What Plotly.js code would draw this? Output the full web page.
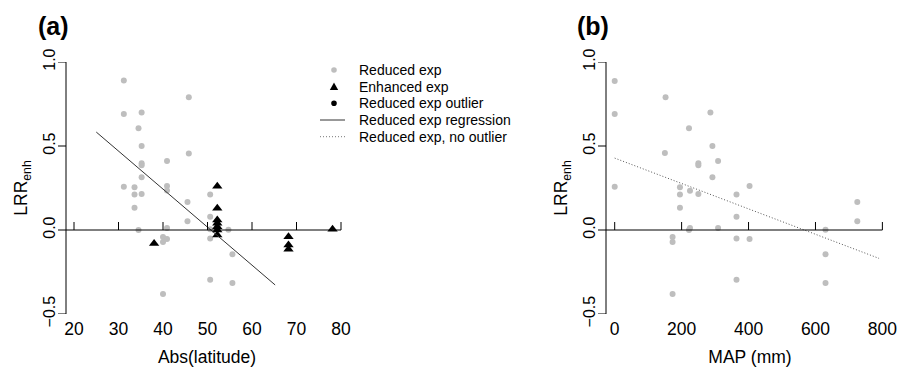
<!DOCTYPE html>
<html>
<head>
<meta charset="utf-8">
<script src="https://cdn.plot.ly/plotly-3.0.1.min.js"></script>
<style>html,body{margin:0;padding:0;background:#fff;}#chart{width:898px;height:371px;}</style>
</head>
<body>
<div id="chart"></div>
<script>
// ---------- data ----------
// Panel (a): LRR_enh vs Abs(latitude)
const latReduced = [37.8, 31.2, 45.8, 31.2, 35.2, 34.5, 35.2, 45.8, 40.9, 35.2, 35.2, 35.2,
  31.2, 33.6, 40.9, 40.9, 33.6, 35.2, 33.6, 34.5, 45.5, 45.5, 50.6, 50.6, 50.6, 50.6,
  40.9, 40.0, 40.0, 40.9, 40.0, 54.7, 55.6, 55.6, 50.6];
const lrrReducedA = [1.01, 0.89, 0.79, 0.69, 0.70, 0.605, 0.50, 0.455, 0.41, 0.397, 0.385, 0.314,
  0.258, 0.254, 0.262, 0.235, 0.212, 0.214, 0.133, 0.0, 0.167, 0.052, 0.212, 0.079, -0.05, -0.296,
  0.012, -0.042, -0.071, -0.054, -0.381, 0.002, -0.145, -0.316, 0.004];
const latEnhanced = [38.0, 52.2, 52.2, 52.2, 52.2, 52.2, 52.2, 52.2, 68.2, 68.2, 68.2, 78.1];
const lrrEnhanced = [-0.08, 0.26, 0.13, 0.06, 0.04, 0.02, 0.0, -0.03, -0.04, -0.09, -0.115, 0.004];
const regLat = [25, 65.2];
const regLrr = [0.583, -0.327];

// Panel (b): LRR_enh vs MAP (mm)
const mapReduced = [0, 0, 0, 152, 150, 195, 195, 195, 173, 173, 173, 222, 225, 222, 225,
  250, 250, 250, 286, 292, 292, 309, 309, 364, 364, 364, 364, 403, 403, 630, 630, 630, 725, 725];
const lrrReducedB = [0.887, 0.69, 0.258, 0.79, 0.458, 0.254, 0.212, 0.133, -0.042, -0.071, -0.381,
  0.605, 0.234, 0.0, 0.012, 0.397, 0.385, 0.214, 0.70, 0.50, 0.314, 0.41, 0.012, 0.212, 0.079,
  -0.05, -0.296, 0.262, -0.054, 0.002, -0.145, -0.316, 0.167, 0.052];
const mapOutlier = [689];
const lrrOutlier = [1.006];
const noOutMap = [0, 790];
const noOutLrr = [0.428, -0.169];

// ticks and labels
const latTicks = [20, 30, 40, 50, 60, 70, 80];
const mapTicks = [0, 200, 400, 600, 800];
const yTicks = [-0.5, 0, 0.5, 1.0];
const yTickText = ['\u22120.5', '0.0', '0.5', '1.0'];
const legendLabels = ['Reduced exp', 'Enhanced exp', 'Reduced exp outlier',
  'Reduced exp regression', 'Reduced exp, no outlier'];
const panelLabels = ['(a)', '(b)'];
const xTitles = ['Abs(latitude)', 'MAP (mm)'];

// ---------- layout geometry (pixels) ----------
const W = 898, H = 371;
const FONT = 'Liberation Sans, Arial, Helvetica, sans-serif';
const GREY = '#bebebe';
const plotTop = 62, plotBot = 314;
const A = {left: 66, right: 348, range: [18.202, 81.573]};
const B = {left: 606, right: 894, range: [-26.0, 834.7]};
const yDom = [1 - plotBot / H, 1 - plotTop / H];
const px = v => v / W, py = v => 1 - v / H;

const traces = [
  {x: latReduced, y: lrrReducedA, xaxis: 'x', yaxis: 'y', type: 'scatter', mode: 'markers',
   marker: {color: GREY, size: 6}, cliponaxis: false, showlegend: false},
  {x: latEnhanced, y: lrrEnhanced, xaxis: 'x', yaxis: 'y', type: 'scatter', mode: 'markers',
   marker: {color: '#000', size: 9, symbol: 'triangle-up'}, cliponaxis: false, showlegend: false},
  {x: regLat, y: regLrr, xaxis: 'x', yaxis: 'y', type: 'scatter', mode: 'lines',
   line: {color: '#333', width: 1}, cliponaxis: false, showlegend: false},
  {x: mapReduced, y: lrrReducedB, xaxis: 'x2', yaxis: 'y2', type: 'scatter', mode: 'markers',
   marker: {color: GREY, size: 6}, cliponaxis: false, showlegend: false},
  {x: mapOutlier, y: lrrOutlier, xaxis: 'x2', yaxis: 'y2', type: 'scatter', mode: 'markers',
   marker: {color: '#000', size: 6}, cliponaxis: false, showlegend: false},
  {x: noOutMap, y: noOutLrr, xaxis: 'x2', yaxis: 'y2', type: 'scatter', mode: 'lines',
   line: {color: '#555', width: 1, dash: '1px,2px'}, cliponaxis: false, showlegend: false}
];

function xAxis(P, ticks, title, anchor) {
  return {
    domain: [px(P.left), px(P.right)], range: P.range, anchor: anchor,
    showgrid: false, zeroline: false, showline: false, ticks: '',
    tickmode: 'array', tickvals: ticks, ticktext: ticks.map(String),
    tickfont: {size: 17.5, color: '#000', family: FONT}, ticklabelstandoff: 2,
    title: {text: title, font: {size: 17.5, color: '#000', family: FONT}, standoff: 13},
    automargin: false, fixedrange: true
  };
}
function yAxis(anchor) {
  return {
    domain: yDom, range: [-0.5, 1.0], anchor: anchor,
    showgrid: false, zeroline: false, showline: false,
    ticks: 'outside', ticklen: 4, tickwidth: 1, tickcolor: 'rgba(0,0,0,0)',
    tickmode: 'array', tickvals: yTicks, ticktext: yTickText, tickangle: -90,
    tickfont: {size: 16, color: '#000', family: FONT},
    title: {text: 'LRR<sub>enh</sub>', font: {size: 17.5, color: '#000', family: FONT}, standoff: 8},
    automargin: false, fixedrange: true
  };
}

const shapes = [];
// axis lines
[['x', 'y', A.range[0], 80], ['x2', 'y2', B.range[0], 800]].forEach(([xr, yr, x0, x1]) => {
  shapes.push({type: 'line', xref: xr, yref: yr, x0: x0, x1: x1, y0: 0, y1: 0, line: {color: '#000', width: 1}});
  shapes.push({type: 'line', xref: xr + ' domain', yref: yr, x0: 0, x1: 0, y0: -0.5, y1: 1.0, line: {color: '#000', width: 1}});
  // outward y ticks (8 px)
  yTicks.forEach(t => shapes.push({type: 'line', xref: xr + ' domain', yref: yr, xsizemode: 'pixel', xanchor: 0,
    x0: -8, x1: 0, y0: t, y1: t, line: {color: '#000', width: 1}}));
});
// upward tick marks on the x-axis line at y = 0
latTicks.forEach(t => shapes.push({type: 'line', xref: 'x', yref: 'y', ysizemode: 'pixel', yanchor: 0,
  x0: t, x1: t, y0: 0, y1: 8, line: {color: '#000', width: 1}}));
mapTicks.forEach(t => shapes.push({type: 'line', xref: 'x2', yref: 'y2', ysizemode: 'pixel', yanchor: 0,
  x0: t, x1: t, y0: 0, y1: 8, line: {color: '#000', width: 1}}));

// legend keys (panel a)
const legX = 334, legTextX = 358, legRows = [70, 86.7, 103.3, 120, 136.7];
shapes.push({type: 'circle', xref: 'paper', yref: 'paper', xsizemode: 'pixel', ysizemode: 'pixel',
  xanchor: px(legX), yanchor: py(legRows[0]), x0: -2.8, x1: 2.8, y0: -2.8, y1: 2.8,
  fillcolor: GREY, line: {width: 0}});
shapes.push({type: 'path', xref: 'paper', yref: 'paper', xsizemode: 'pixel', ysizemode: 'pixel',
  xanchor: px(legX), yanchor: py(legRows[1]), path: 'M-4.2,-3.2L4.2,-3.2L0,4.2Z',
  fillcolor: '#000', line: {width: 0}});
shapes.push({type: 'circle', xref: 'paper', yref: 'paper', xsizemode: 'pixel', ysizemode: 'pixel',
  xanchor: px(legX), yanchor: py(legRows[2]), x0: -2.8, x1: 2.8, y0: -2.8, y1: 2.8,
  fillcolor: '#000', line: {width: 0}});
shapes.push({type: 'line', xref: 'paper', yref: 'paper', x0: px(320), x1: px(345),
  y0: py(legRows[3]), y1: py(legRows[3]), line: {color: '#333', width: 1}});
shapes.push({type: 'line', xref: 'paper', yref: 'paper', x0: px(320), x1: px(345),
  y0: py(legRows[4]), y1: py(legRows[4]), line: {color: '#777', width: 1, dash: '1px,2px'}});

const annotations = legendLabels.map((t, i) => ({
  text: t, xref: 'paper', yref: 'paper', x: px(legTextX), y: py(legRows[i]),
  xanchor: 'left', yanchor: 'middle', showarrow: false, borderpad: 0,
  font: {size: 14, color: '#000', family: FONT}
}));
[[53.7, 26], [592.5, 26]].forEach(([x, y], i) => annotations.push({
  text: '<b>' + panelLabels[i] + '</b>', xref: 'paper', yref: 'paper', x: px(x), y: py(y),
  xanchor: 'center', yanchor: 'middle', showarrow: false, borderpad: 0,
  font: {size: 25, color: '#000', family: FONT}
}));

const layout = {
  width: W, height: H, margin: {l: 0, r: 0, t: 0, b: 0},
  paper_bgcolor: '#fff', plot_bgcolor: 'rgba(0,0,0,0)', showlegend: false,
  font: {family: FONT, color: '#000'},
  xaxis: xAxis(A, latTicks, xTitles[0], 'y'),
  yaxis: yAxis('x'),
  xaxis2: xAxis(B, mapTicks, xTitles[1], 'y2'),
  yaxis2: yAxis('x2'),
  shapes: shapes, annotations: annotations
};

Plotly.newPlot('chart', traces, layout, {staticPlot: true, displayModeBar: false});
</script>
</body>
</html>
